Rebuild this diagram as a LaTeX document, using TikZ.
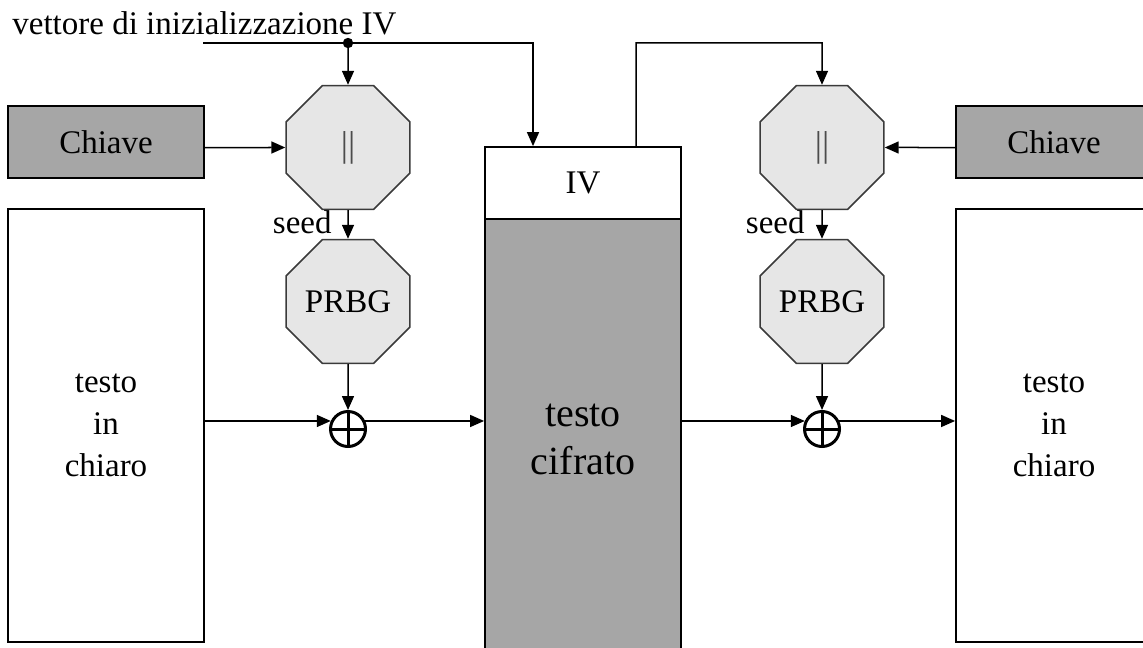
\documentclass[tikz,border=0pt]{standalone}
\usepackage{fontspec}
\setmainfont{Liberation Serif}
\usetikzlibrary{arrows.meta,positioning,calc,shapes.geometric}
\definecolor{keyfill}{HTML}{A6A6A6}
\definecolor{octfill}{HTML}{E6E6E6}
\definecolor{octline}{HTML}{3A3A3A}
\definecolor{ink}{HTML}{000000}
\tikzset{
  >={Triangle[length=7pt,width=6pt]},
  every node/.style={font=\fontsize{16.5}{21}\selectfont,text=ink},
  box/.style={draw=ink,line width=0.9pt,minimum width=98pt,minimum height=36pt,align=center,inner sep=0pt},
  keybox/.style={box,fill=keyfill},
  msgbox/.style={box,minimum height=216.5pt},
  octo/.style={regular polygon,regular polygon sides=8,minimum size=67pt,inner sep=0pt,draw=octline,line width=0.8pt,fill=octfill},
  xorop/.style={circle,draw=ink,line width=1.5pt,minimum size=17.5pt,inner sep=0pt,
    path picture={\draw[ink,line width=1.5pt] (path picture bounding box.north) -- (path picture bounding box.south)
      (path picture bounding box.west) -- (path picture bounding box.east);}},
  arrow/.style={->,line width=0.75pt,draw=ink},
  lbl/.style={inner sep=0pt},
}

\begin{document}
\begin{tikzpicture}[x=0.5pt,y=-0.5pt]
\useasboundingbox (0,0) rectangle (1143,647);

% cifratura
\node[keybox] (keyL) at (106,142) {Chiave};
\node[octo] (catL) at (348,147.5) {\textcolor{black!70}{\fontsize{18}{21}\selectfont ||}};
\node[octo] (prbgL) at (348,301.5) {PRBG};
\node[xorop] (xorL) at (348,429) {};
\node[msgbox] (plainL) at (106,425.5) {testo\\in\\chiaro};

% canale
\node[box,fill=keyfill,minimum height=220.5pt,font=\fontsize{20}{24}\selectfont] (cipher) at (583,439.5) {testo\\cifrato};
\node[box,fill=white] (ivbox) at (583,183) {IV};

% decifratura
\node[keybox] (keyR) at (1054,142) {Chiave};
\node[octo] (catR) at (822,147.5) {\textcolor{black!70}{\fontsize{18}{21}\selectfont ||}};
\node[octo] (prbgR) at (822,301.5) {PRBG};
\node[xorop] (xorR) at (822,429) {};
\node[msgbox] (plainR) at (1054,425.5) {testo\\in\\chiaro};

% vettore IV
\node[lbl,anchor=base west] (ivlabel) at (12,35) {vettore di inizializzazione IV};
\coordinate (ivin) at (203,43);
\coordinate (split) at (348,43);
\fill[ink] (split) circle (2.6pt);
\draw[arrow] (ivin) -| ([xshift=-25pt]ivbox.north);
\draw[arrow] (split) -- (catL.north);
\draw[arrow] ([xshift=26.5pt]ivbox.north) |- (catR |- split) -- (catR.north);

% lato sinistro
\draw[arrow] (keyL.east |- catL) -- (catL);
\draw[arrow] (catL) -- (prbgL);
\node[lbl,anchor=base east] (seedL) at (332,233) {seed};
\draw[arrow] (prbgL) -- (xorL);
\draw[arrow] (plainL.east |- xorL.155) -- (xorL.155);
\draw[arrow] (xorL.25) -- (cipher.west |- xorL.25);

% lato destro
\draw[arrow] (keyR.west |- catR) -- (catR);
\draw[arrow] (catR) -- (prbgR);
\node[lbl,anchor=base east] (seedR) at (805,233) {seed};
\draw[arrow] (prbgR) -- (xorR);
\draw[arrow] (cipher.east |- xorR.155) -- (xorR.155);
\draw[arrow] (xorR.25) -- (plainR.west |- xorR.25);

\end{tikzpicture}
\end{document}
